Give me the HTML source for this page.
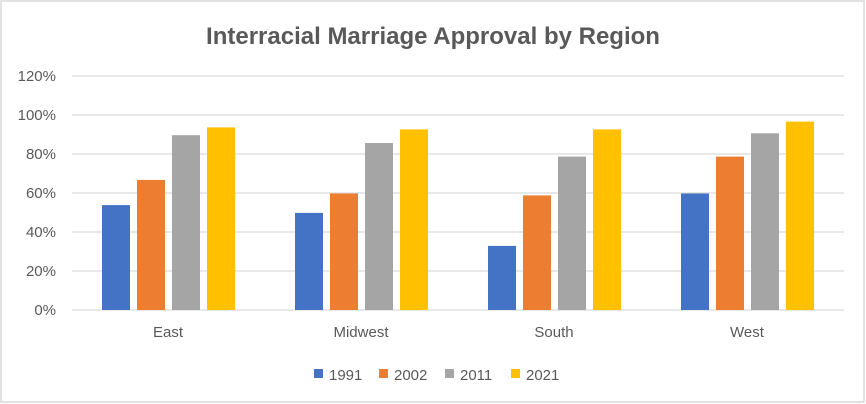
<!DOCTYPE html><html><head><style>body{margin:0;background:#fff}svg{display:block}</style></head><body>
<svg width="866" height="404" xmlns="http://www.w3.org/2000/svg" font-family="'Liberation Sans',sans-serif">
<rect x="1" y="1" width="863" height="401" fill="#fff" stroke="#d9d9d9" stroke-width="1.5"/>
<text x="433" y="44" text-anchor="middle" font-size="24" font-weight="bold" fill="#595959">Interracial Marriage Approval by Region</text>
<g stroke="#d9d9d9" stroke-width="1.3">
<line x1="72" x2="844" y1="76" y2="76"/><line x1="72" x2="844" y1="115" y2="115"/><line x1="72" x2="844" y1="154" y2="154"/><line x1="72" x2="844" y1="193" y2="193"/><line x1="72" x2="844" y1="232" y2="232"/><line x1="72" x2="844" y1="271" y2="271"/><line x1="72" x2="844" y1="310" y2="310"/>
</g>
<g font-size="15" fill="#595959" text-anchor="end">
<text x="56" y="81">120%</text><text x="56" y="120">100%</text><text x="56" y="159">80%</text><text x="56" y="198">60%</text><text x="56" y="237">40%</text><text x="56" y="276">20%</text><text x="56" y="315">0%</text>
</g>
<g id="bars"></g>
<g font-size="15" fill="#595959" text-anchor="middle">
<text x="168" y="337">East</text><text x="361" y="337">Midwest</text><text x="554" y="337">South</text><text x="747" y="337">West</text>
</g>
<g font-size="15" fill="#595959">
<rect x="314" y="369" width="9" height="9" fill="#4472c4"/><text x="329" y="380">1991</text>
<rect x="379" y="369" width="9" height="9" fill="#ed7d31"/><text x="394" y="380">2002</text>
<rect x="445" y="369" width="9" height="9" fill="#a5a5a5"/><text x="460" y="380">2011</text>
<rect x="511" y="369" width="9" height="9" fill="#ffc000"/><text x="526" y="380">2021</text>
</g>
<g>
<rect x="102" y="205.1" width="28" height="104.9" fill="#4472c4"/><rect x="137" y="179.9" width="28" height="130.1" fill="#ed7d31"/><rect x="172" y="135.2" width="28" height="174.8" fill="#a5a5a5"/><rect x="207" y="127.4" width="28" height="182.6" fill="#ffc000"/>
<rect x="295" y="212.9" width="28" height="97.1" fill="#4472c4"/><rect x="330" y="193.5" width="28" height="116.5" fill="#ed7d31"/><rect x="365" y="143" width="28" height="167" fill="#a5a5a5"/><rect x="400" y="129.4" width="28" height="180.6" fill="#ffc000"/>
<rect x="488" y="245.9" width="28" height="64.1" fill="#4472c4"/><rect x="523" y="195.4" width="28" height="114.6" fill="#ed7d31"/><rect x="558" y="156.6" width="28" height="153.4" fill="#a5a5a5"/><rect x="593" y="129.4" width="28" height="180.6" fill="#ffc000"/>
<rect x="681" y="193.5" width="28" height="116.5" fill="#4472c4"/><rect x="716" y="156.6" width="28" height="153.4" fill="#ed7d31"/><rect x="751" y="133.3" width="28" height="176.7" fill="#a5a5a5"/><rect x="786" y="121.6" width="28" height="188.4" fill="#ffc000"/>
</g>
</svg></body></html>
